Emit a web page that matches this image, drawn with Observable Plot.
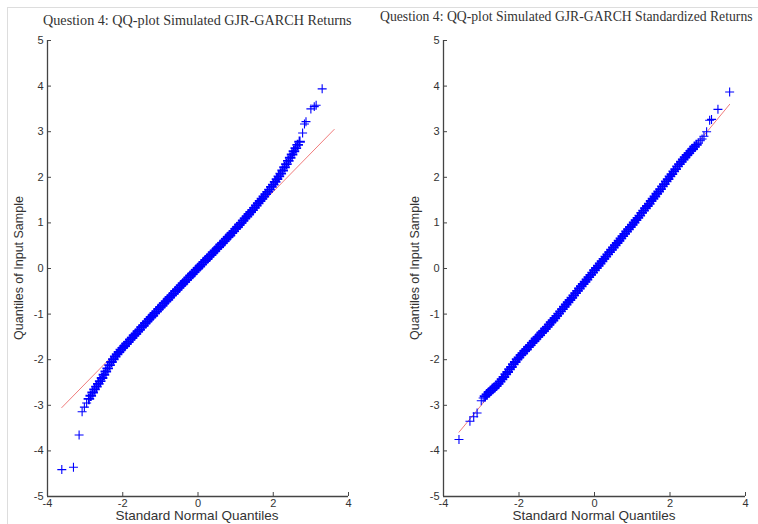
<!DOCTYPE html>
<html>
<head>
<meta charset="utf-8">
<script src="https://cdn.jsdelivr.net/npm/d3@7"></script>
<script src="https://cdn.jsdelivr.net/npm/@observablehq/plot@0.6"></script>
<style>
  html, body { margin: 0; padding: 0; background: #fff; }
  #wrap { position: relative; width: 758px; height: 524px; overflow: hidden; background: #fff; }
  .title { position: absolute; font-family: "Liberation Serif", "DejaVu Serif", serif; font-size: 14.2px; color: #333; white-space: nowrap; }
  .xlab { position: absolute; font-family: "Liberation Sans", Arial, sans-serif; font-size: 13.5px; line-height: 15px; color: #333; white-space: nowrap; transform: translateX(-50%); }
  .ylab { position: absolute; font-family: "Liberation Sans", Arial, sans-serif; font-size: 12.5px; color: #333; white-space: nowrap; transform: translate(-50%, -50%) rotate(-90deg); }
  .panel { position: absolute; top: 0; }
  .frame { position: absolute; left: 7px; top: 7px; right: 0; bottom: 0; border-left: 1px solid #ddd; border-top: 1px solid #ddd; }
</style>
</head>
<body>
<div id="wrap">
  <div class="frame"></div>
</div>
<script>
// ---- data ----
const titleLeft = "Question 4: QQ-plot Simulated GJR-GARCH Returns";
const titleRight = "Question 4: QQ-plot Simulated GJR-GARCH Standardized Returns";
const xLabel = "Standard Normal Quantiles";
const yLabel = "Quantiles of Input Sample";
const xTicks = [-4, -2, 0, 2, 4];
const yTicks = [-5, -4, -3, -2, -1, 0, 1, 2, 3, 4, 5];

// standard normal quantiles of the dense central band
const bandX = [-2.90,-2.85,-2.80,-2.75,-2.70,-2.65,-2.60,-2.55,-2.50,-2.45,-2.40,-2.35,-2.30,-2.25,-2.20,-2.15,-2.10,-2.05,-2.00,
  -1.95,-1.90,-1.85,-1.80,-1.75,-1.70,-1.65,-1.60,-1.55,-1.50,-1.45,-1.40,-1.35,-1.30,-1.25,-1.20,-1.15,-1.10,-1.05,-1.00,
  -0.95,-0.90,-0.85,-0.80,-0.75,-0.70,-0.65,-0.60,-0.55,-0.50,-0.45,-0.40,-0.35,-0.30,-0.25,-0.20,-0.15,-0.10,-0.05,0.00,
  0.05,0.10,0.15,0.20,0.25,0.30,0.35,0.40,0.45,0.50,0.55,0.60,0.65,0.70,0.75,0.80,0.85,0.90,0.95,1.00,
  1.05,1.10,1.15,1.20,1.25,1.30,1.35,1.40,1.45,1.50,1.55,1.60,1.65,1.70,1.75,1.80,1.85,1.90,1.95,2.00,
  2.05,2.10,2.15,2.20,2.25,2.30,2.35,2.40,2.45,2.50,2.55,2.60,2.65,2.70];

// left panel: returns
const leftBandY = [-2.86,-2.79,-2.72,-2.65,-2.59,-2.53,-2.47,-2.40,-2.33,-2.26,-2.19,-2.12,-2.05,-1.99,-1.93,-1.88,-1.83,-1.78,-1.74,
  -1.70,-1.65,-1.61,-1.56,-1.52,-1.47,-1.43,-1.38,-1.34,-1.29,-1.25,-1.20,-1.16,-1.11,-1.07,-1.03,-0.98,-0.94,-0.89,-0.85,
  -0.81,-0.76,-0.72,-0.68,-0.63,-0.59,-0.55,-0.50,-0.46,-0.42,-0.37,-0.33,-0.29,-0.25,-0.20,-0.16,-0.12,-0.08,-0.03,0.01,
  0.05,0.09,0.14,0.18,0.22,0.26,0.30,0.35,0.39,0.43,0.47,0.52,0.56,0.60,0.65,0.69,0.73,0.78,0.82,0.87,
  0.91,0.96,1.00,1.05,1.10,1.14,1.19,1.24,1.28,1.33,1.38,1.43,1.48,1.53,1.58,1.63,1.68,1.73,1.79,1.84,
  1.90,1.96,2.02,2.08,2.15,2.22,2.29,2.36,2.43,2.50,2.57,2.64,2.71,2.78];
const leftTailX = [-3.62,-3.31,-3.16,-3.08,-3.02,-2.96, 2.78, 2.83, 2.87, 3.00, 3.09, 3.14, 3.30];
const leftTailY = [-4.41,-4.36,-3.65,-3.14,-3.04,-2.95, 2.97, 3.17, 3.22, 3.50, 3.55, 3.58, 3.94];
const leftLineX = [-3.62, 3.62];
const leftLineY = [-3.05, 3.05];

// right panel: standardized returns
const rightBandY = [-2.80,-2.76,-2.72,-2.68,-2.64,-2.61,-2.57,-2.53,-2.48,-2.43,-2.38,-2.32,-2.27,-2.21,-2.16,-2.10,-2.05,-1.99,-1.95,
  -1.90,-1.86,-1.81,-1.77,-1.72,-1.68,-1.63,-1.59,-1.54,-1.50,-1.46,-1.41,-1.37,-1.32,-1.28,-1.23,-1.18,-1.14,-1.09,-1.04,
  -0.99,-0.94,-0.89,-0.84,-0.79,-0.74,-0.69,-0.64,-0.59,-0.54,-0.49,-0.44,-0.39,-0.34,-0.29,-0.24,-0.19,-0.14,-0.09,-0.04,
  0.01,0.06,0.11,0.16,0.21,0.26,0.31,0.36,0.41,0.46,0.51,0.56,0.61,0.66,0.71,0.76,0.81,0.86,0.91,0.96,
  1.01,1.06,1.11,1.16,1.22,1.27,1.32,1.37,1.42,1.48,1.53,1.58,1.64,1.69,1.74,1.80,1.85,1.91,1.96,2.02,
  2.07,2.13,2.18,2.24,2.29,2.34,2.39,2.44,2.49,2.53,2.58,2.62,2.67,2.71];
const rightTailX = [-3.59,-3.30,-3.20,-3.11,-3.00,-2.95, 2.75, 2.80, 2.85, 2.90, 2.97, 3.05, 3.10, 3.27, 3.58];
const rightTailY = [-3.75,-3.35,-3.25,-3.17,-2.90,-2.84, 2.75, 2.80, 2.84, 2.90, 3.00, 3.25, 3.27, 3.49, 3.87];
const rightLineX = [-3.59, 3.58];
const rightLineY = [-3.59, 3.60];

// ---- drawing ----
const W = 379, H = 524, MT = 40, MB = 28;
const axisColor = "#444";
const blue = "#0000ff";
const red = "#f07c7c";

function panel(opts) {
  const {bandY, tailX, tailY, lineX, lineY, ml, mr} = opts;
  const fw = W - ml - mr, fh = H - MT - MB;
  const bi = d3.range(bandX.length), ti = d3.range(tailX.length), li = d3.range(lineX.length);
  return Plot.plot({
    width: W, height: H,
    marginTop: MT, marginBottom: MB, marginLeft: ml, marginRight: mr,
    style: {fontFamily: "'Liberation Sans', Arial, sans-serif", fontSize: "11px", color: "#333", background: "transparent"},
    x: {domain: [-4, 4]},
    y: {domain: [-5, 5]},
    marks: [
      Plot.axisX({ticks: xTicks, tickSize: 0, tickPadding: 3, tickFormat: d => String(d), label: null, fill: "#333"}),
      Plot.axisY({ticks: yTicks, tickSize: 0, tickPadding: 4, tickFormat: d => String(d), label: null, fill: "#333"}),
      Plot.tickX(xTicks, {x: d => d, insetTop: fh - 4, stroke: axisColor, strokeWidth: 1}),
      Plot.tickY(yTicks, {y: d => d, insetRight: fw - 4, stroke: axisColor, strokeWidth: 1}),
      Plot.ruleX([-4], {stroke: axisColor, strokeWidth: 1.3}),
      Plot.ruleY([-5], {stroke: axisColor, strokeWidth: 1.3}),
      Plot.line(li, {x: i => lineX[i], y: i => lineY[i], stroke: red, strokeWidth: 1}),
      Plot.dot(bi, {x: i => bandX[i], y: i => bandY[i], symbol: "plus", r: 3.5, stroke: blue, strokeWidth: 1.9}),
      Plot.dot(ti, {x: i => tailX[i], y: i => tailY[i], symbol: "plus", r: 3, stroke: blue, strokeWidth: 1.1})
    ]
  });
}

const wrap = document.getElementById("wrap");

const left = panel({bandY: leftBandY, tailX: leftTailX, tailY: leftTailY, lineX: leftLineX, lineY: leftLineY, ml: 47, mr: 31});
left.classList.add("panel");
left.style.left = "0px";
wrap.appendChild(left);

const right = panel({bandY: rightBandY, tailX: rightTailX, tailY: rightTailY, lineX: rightLineX, lineY: rightLineY, ml: 64, mr: 13});
right.classList.add("panel");
right.style.left = "379px";
wrap.appendChild(right);

function addDiv(cls, text, css) {
  const d = document.createElement("div");
  d.className = cls;
  d.textContent = text;
  Object.assign(d.style, css);
  wrap.appendChild(d);
  return d;
}
addDiv("title", titleLeft, {left: "43px", top: "12px"});
addDiv("title", titleRight, {left: "380px", top: "9px", fontSize: "13.7px"});
addDiv("xlab", xLabel, {left: "197px", top: "508px"});
addDiv("xlab", xLabel, {left: "594px", top: "508px"});
addDiv("ylab", yLabel, {left: "19px", top: "268px"});
addDiv("ylab", yLabel, {left: "415px", top: "268px"});
</script>
</body>
</html>
